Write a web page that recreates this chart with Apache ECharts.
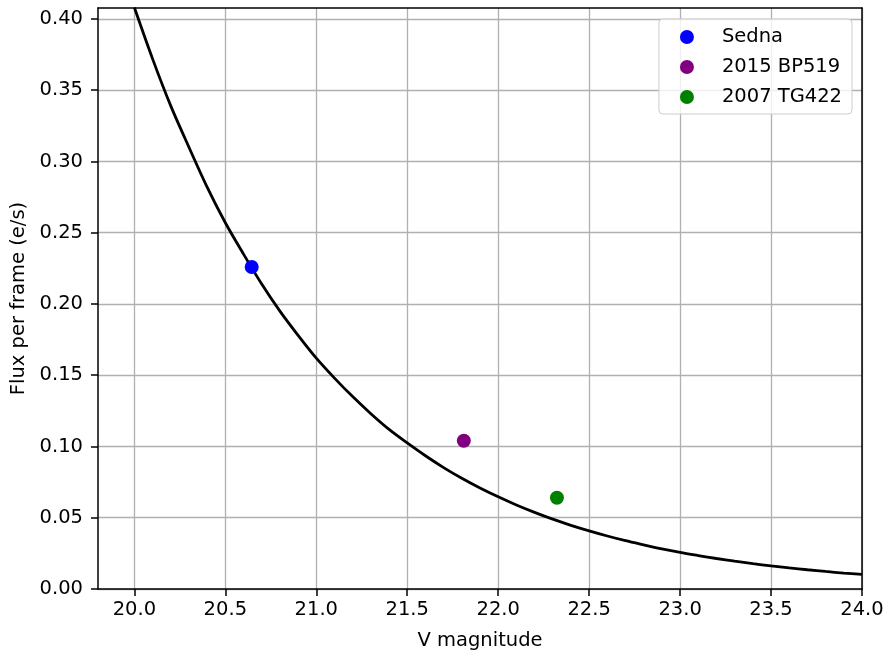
<!DOCTYPE html>
<html>
<head>
<meta charset="utf-8">
<script src="https://cdn.jsdelivr.net/npm/echarts@6/dist/echarts.min.js"></script>
<style>html,body{margin:0;padding:0;background:#fff;}#chart{width:890px;height:656px;}</style>
</head>
<body>
<div id="chart"></div>
<script>
// Curve: V magnitude vs flux per frame
const curveV = [20.0,20.1,20.2,20.3,20.4,20.5,20.6,20.7,20.8,20.9,21.0,21.1,21.2,21.3,21.4,21.5,21.6,21.7,21.8,21.9,22.0,22.1,22.2,22.3,22.4,22.5,22.6,22.7,22.8,22.9,23.0,23.1,23.2,23.3,23.4,23.5,23.6,23.7,23.8,23.9,24.0];
const curveFlux = [0.408,0.372,0.339,0.310,0.282,0.257,0.235,0.214,0.195,0.178,0.162,0.148,0.135,0.123,0.112,0.1025,0.0935,0.0852,0.0777,0.0709,0.0647,0.0590,0.0538,0.0490,0.0447,0.0408,0.0372,0.0339,0.0310,0.0282,0.0257,0.0235,0.0214,0.0195,0.0178,0.0162,0.0148,0.0135,0.0123,0.0112,0.0102];
// Objects
const objNames = ['Sedna','2015 BP519','2007 TG422'];
const objV = [20.645, 21.811, 22.323];
const objFlux = [0.226, 0.104, 0.064];
const objColors = ['#0000ff','#800080','#008000'];
// Ticks
const xTicks = [20.0,20.5,21.0,21.5,22.0,22.5,23.0,23.5,24.0];
const yTicks = [0,0.05,0.10,0.15,0.20,0.25,0.30,0.35,0.40];

const FONT = 'DejaVu Sans';
const FS = 19.5;
const chart = echarts.init(document.getElementById('chart'), null, {renderer:'canvas'});
const series = [{
  type:'line', name:'curve', silent:true, symbol:'none', smooth:0.3,
  data: curveV.map((v,i)=>[v,curveFlux[i]]),
  lineStyle:{color:'#000', width:2.8}, z:2
}];
objNames.forEach((n,i)=>{
  series.push({type:'scatter', name:n, data:[[objV[i],objFlux[i]]], symbolSize:14,
    itemStyle:{color:objColors[i], opacity:1}, z:5});
});
chart.setOption({
  animation:false,
  backgroundColor:'#fff',
  grid:{left:98, top:8, right:28, bottom:66, containLabel:false},
  legend:{
    data: objNames.map((n,i)=>({name:n, icon:'circle', itemStyle:{color:objColors[i]}})),
    orient:'vertical', right:38, top:19,
    itemWidth:14, itemHeight:14, itemGap:10,
    padding:[8,10,7,21],
    borderColor:'#cccccc', borderWidth:1, borderRadius:4,
    backgroundColor:'rgba(255,255,255,0.8)',
    textStyle:{fontFamily:FONT, fontSize:FS, color:'#000', lineHeight:20, padding:[0,0,0,23]},
    selectedMode:false
  },
  xAxis:[{
    type:'value', min:19.8, max:24.0, position:'bottom',
    name:'V magnitude', nameLocation:'middle', nameGap:42,
    nameTextStyle:{fontFamily:FONT, fontSize:FS, color:'#000'},
    axisLine:{show:true, onZero:false, lineStyle:{color:'#000', width:1.5}},
    axisTick:{show:true, length:7, inside:false, lineStyle:{color:'#000', width:1.5}, customValues:xTicks},
    axisLabel:{customValues:xTicks, fontFamily:FONT, fontSize:FS, color:'#000', margin:11, formatter:v=>v.toFixed(1), showMinLabel:true, showMaxLabel:true},
    splitLine:{show:true, lineStyle:{color:'#b0b0b0', width:1.3}}
  },{
    type:'value', min:19.8, max:24.0, position:'top', z:4,
    axisLine:{show:true, onZero:false, lineStyle:{color:'#000', width:1.5}},
    axisTick:{show:false}, axisLabel:{show:false}, splitLine:{show:false}
  }],
  yAxis:[{
    type:'value', min:0, max:0.4077, position:'left',
    name:'Flux per frame (e/s)', nameLocation:'middle', nameGap:68,
    nameTextStyle:{fontFamily:FONT, fontSize:FS, color:'#000'},
    axisLine:{show:true, onZero:false, lineStyle:{color:'#000', width:1.5}},
    axisTick:{show:true, length:7, lineStyle:{color:'#000', width:1.5}, customValues:yTicks},
    axisLabel:{customValues:yTicks, fontFamily:FONT, fontSize:FS, color:'#000', margin:15, formatter:v=>v.toFixed(2)},
    splitLine:{show:true, lineStyle:{color:'#b0b0b0', width:1.3}}
  },{
    type:'value', min:0, max:0.4077, position:'right', z:4,
    axisLine:{show:true, onZero:false, lineStyle:{color:'#000', width:1.5}},
    axisTick:{show:false}, axisLabel:{show:false}, splitLine:{show:false}
  }],
  series: series
});
</script>
</body>
</html>
